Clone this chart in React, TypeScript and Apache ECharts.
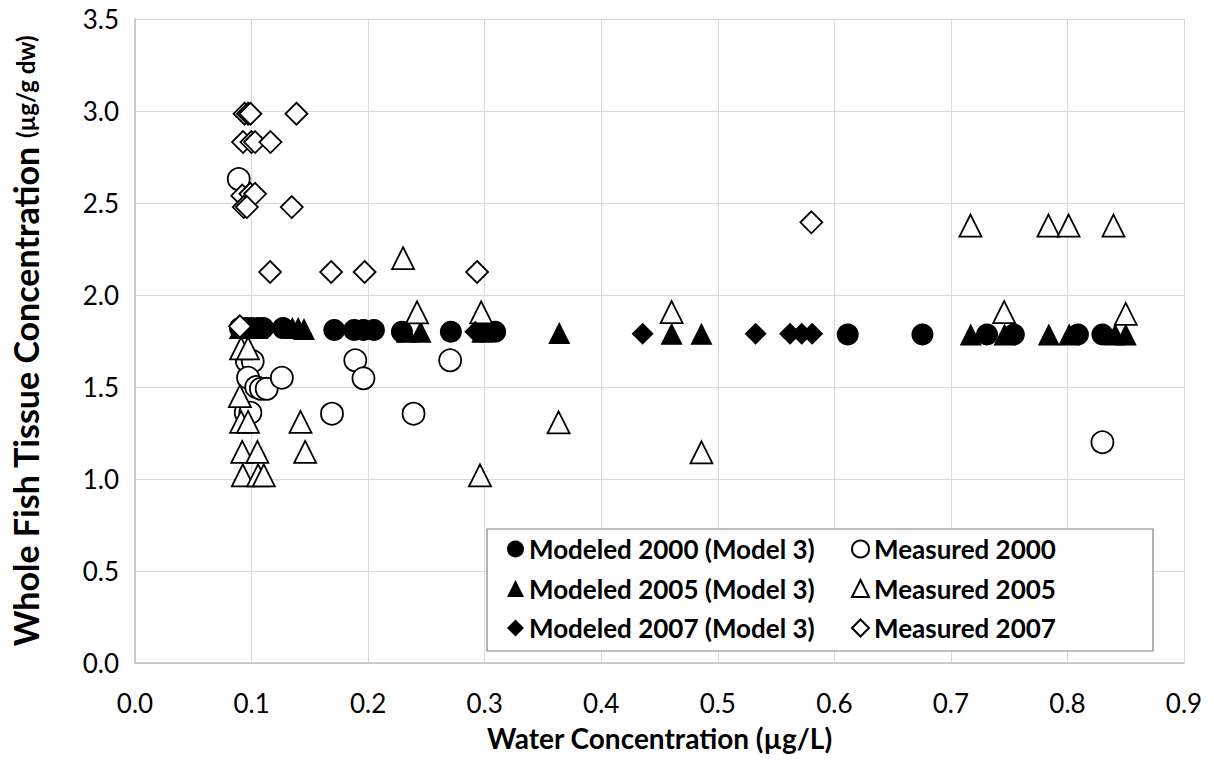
import React, { useEffect, useRef } from "react";
import * as echarts from "echarts";

const FONT = "Lato, 'Noto Sans', sans-serif";

const xTicks = [0, 0.1, 0.2, 0.3, 0.4, 0.5, 0.6, 0.7, 0.8, 0.9];
const yTicks = [0, 0.5, 1, 1.5, 2, 2.5, 3, 3.5];

const seriesNames = [
  "Modeled 2000 (Model 3)",
  "Measured 2000",
  "Modeled 2005 (Model 3)",
  "Measured 2005",
  "Modeled 2007 (Model 3)",
  "Measured 2007",
];

const modeled2000X = [0.09, 0.095, 0.1, 0.105, 0.11, 0.127, 0.171, 0.188, 0.196, 0.205, 0.229, 0.271, 0.298, 0.309, 0.6115, 0.6756, 0.731, 0.754, 0.809, 0.83];
const modeled2000Y = [1.82, 1.82, 1.82, 1.82, 1.82, 1.82, 1.81, 1.81, 1.81, 1.81, 1.8, 1.8, 1.8, 1.8, 1.785, 1.785, 1.785, 1.785, 1.785, 1.785];

const measured2000X = [0.089, 0.096, 0.101, 0.097, 0.104, 0.108, 0.113, 0.126, 0.095, 0.099, 0.169, 0.189, 0.196, 0.239, 0.2704, 0.83];
const measured2000Y = [2.63, 1.64, 1.64, 1.55, 1.5, 1.49, 1.49, 1.55, 1.36, 1.36, 1.355, 1.645, 1.547, 1.355, 1.645, 1.2];

const modeled2005X = [0.09, 0.1, 0.105, 0.135, 0.14, 0.145, 0.233, 0.245, 0.298, 0.364, 0.4604, 0.486, 0.717, 0.746, 0.784, 0.8015, 0.841, 0.85];
const modeled2005Y = [1.82, 1.82, 1.82, 1.82, 1.82, 1.815, 1.8, 1.8, 1.8, 1.793, 1.79, 1.79, 1.785, 1.785, 1.785, 1.785, 1.785, 1.785];

const measured2005X = [0.091, 0.097, 0.09, 0.091, 0.097, 0.142, 0.092, 0.105, 0.146, 0.0925, 0.1056, 0.1105, 0.23, 0.242, 0.297, 0.296, 0.3634, 0.4604, 0.486, 0.7168, 0.7457, 0.7837, 0.801, 0.8395, 0.85];
const measured2005Y = [1.71, 1.71, 1.45, 1.31, 1.31, 1.31, 1.147, 1.147, 1.147, 1.02, 1.02, 1.02, 2.2, 1.906, 1.906, 1.02, 1.308, 1.907, 1.145, 2.377, 1.907, 2.377, 2.377, 2.377, 1.897];

const modeled2007X = [0.092, 0.095, 0.1, 0.292, 0.4355, 0.5325, 0.562, 0.572, 0.581];
const modeled2007Y = [1.82, 1.82, 1.82, 1.8, 1.79, 1.79, 1.79, 1.79, 1.79];

const measured2007X = [0.094, 0.097, 0.099, 0.1385, 0.0927, 0.0999, 0.103, 0.1162, 0.092, 0.099, 0.103, 0.0933, 0.096, 0.1345, 0.1159, 0.1683, 0.197, 0.2935, 0.5803, 0.09];
const measured2007Y = [2.985, 2.985, 2.985, 2.985, 2.831, 2.831, 2.831, 2.831, 2.54, 2.55, 2.55, 2.478, 2.478, 2.478, 2.125, 2.125, 2.125, 2.125, 2.395, 1.83];

const pairs = (xs: number[], ys: number[]) => xs.map((x, i) => [x, ys[i]]);

export default function App() {
  const ref = useRef<HTMLDivElement>(null);
  useEffect(() => {
    if (!ref.current) return;
    const chart = echarts.init(ref.current, undefined, { renderer: "svg" });
    const filled = { color: "#000000", opacity: 1 };
    const open = { color: "#ffffff", borderColor: "#000000", borderWidth: 1.8, opacity: 1 };
    const mk = (name: string, xs: number[], ys: number[], symbol: string, style: any) => ({
      name,
      type: "scatter",
      data: pairs(xs, ys),
      symbol,
      symbolSize: 22,
      itemStyle: style,
      emphasis: { disabled: true },
    });
    const legendText = {
      fontFamily: FONT,
      fontWeight: "bold",
      fontSize: 26,
      lineHeight: 26,
      color: "#000",
      padding: [0, 0, 0, 0],
    };
    const legendCommon = {
      orient: "vertical",
      top: 531,
      itemWidth: 17,
      itemHeight: 17,
      itemGap: 13.5,
      selectedMode: false,
      textStyle: legendText,
    };
    chart.setOption({
      animation: false,
      backgroundColor: "#ffffff",
      grid: { left: 135, right: 30, top: 19, bottom: 110, containLabel: false },
      xAxis: {
        type: "value",
        min: xTicks[0],
        max: xTicks[xTicks.length - 1],
        interval: 0.1,
        axisLine: { show: true, lineStyle: { color: "#bfbfbf", width: 1.5 } },
        axisTick: { show: false },
        splitLine: { show: true, lineStyle: { color: "#d9d9d9", width: 1 } },
        axisLabel: {
          formatter: (v: number) => v.toFixed(1),
          fontFamily: FONT,
          fontSize: 26,
          color: "#000",
          margin: 27,
        },
        name: "Water Concentration (µg/L)",
        nameLocation: "middle",
        nameGap: 61,
        nameTextStyle: { fontFamily: FONT, fontWeight: "bold", fontSize: 28, color: "#000" },
      },
      yAxis: {
        type: "value",
        min: yTicks[0],
        max: yTicks[yTicks.length - 1],
        interval: 0.5,
        axisLine: { show: true, lineStyle: { color: "#bfbfbf", width: 1.5 } },
        axisTick: { show: false },
        splitLine: { show: true, lineStyle: { color: "#d9d9d9", width: 1 } },
        axisLabel: {
          formatter: (v: number) => v.toFixed(1),
          fontFamily: FONT,
          fontSize: 26,
          color: "#000",
          margin: 16,
        },
        name: "{a|Whole Fish Tissue Concentration }{b|(µg/g dw)}",
        nameLocation: "middle",
        nameGap: 93,
        nameRotate: 90,
        nameTextStyle: {
          color: "#000",
          rich: {
            a: { fontFamily: FONT, fontWeight: "bold", fontSize: 34, color: "#000" },
            b: { fontFamily: FONT, fontWeight: "bold", fontSize: 24, color: "#000" },
          },
        },
      },
      legend: [
        { ...legendCommon, left: 502, data: [seriesNames[0], seriesNames[2], seriesNames[4]] },
        { ...legendCommon, left: 846, data: [seriesNames[1], seriesNames[3], seriesNames[5]] },
      ],
      graphic: [
        {
          type: "rect",
          z: 3,
          shape: { x: 487, y: 529, width: 666, height: 122 },
          style: { fill: "#ffffff", stroke: "#808080", lineWidth: 1.2 },
        },
      ],
      series: [
        mk(seriesNames[0], modeled2000X, modeled2000Y, "circle", filled),
        mk(seriesNames[1], measured2000X, measured2000Y, "circle", open),
        mk(seriesNames[2], modeled2005X, modeled2005Y, "triangle", filled),
        mk(seriesNames[3], measured2005X, measured2005Y, "triangle", open),
        mk(seriesNames[4], modeled2007X, modeled2007Y, "diamond", filled),
        mk(seriesNames[5], measured2007X, measured2007Y, "diamond", open),
      ],
    });
    return () => chart.dispose();
  }, []);
  return (
    <div
      ref={ref}
      style={{ position: "fixed", left: 0, top: 0, width: 1214, height: 773, background: "#fff" }}
    />
  );
}
